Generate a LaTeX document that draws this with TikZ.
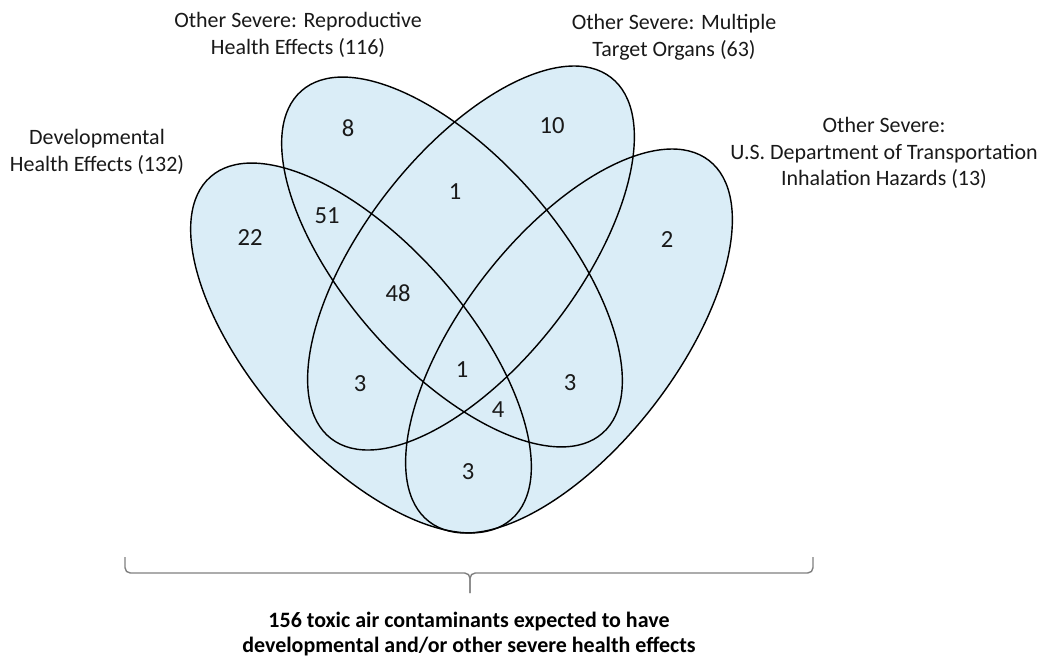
\documentclass[tikz,border=0pt]{standalone}
\usepackage{fontspec}
\setmainfont{Carlito}
\definecolor{vennfill}{RGB}{218,237,247}

\begin{document}
\begin{tikzpicture}[
    x=0.02cm, y=-0.02cm,
    font=\fontsize{12.5}{15.3}\selectfont,
    setfill/.style={fill=vennfill},
    setline/.style={draw=black, line width=0.8pt},
    setlabel/.style={align=center, inner sep=0pt, text=black!90},
    count/.style={font=\fontsize{14}{16}\selectfont, inner sep=0pt, text=black!90},
    bracket/.style={draw=black!50, line width=0.8pt, rounded corners=3pt},
    summary/.style={align=center, inner sep=0pt, font=\fontsize{12.5}{14.7}\selectfont\bfseries},
]
    \useasboundingbox (0,0) rectangle (1045,657);

    % ============= Set centres =============
    \coordinate (devC) at (361,348);
    \coordinate (repC) at (452,262);
    \coordinate (mulC) at (471,258);
    \coordinate (dotC) at (569,341);

    % ============= Fills first, outlines on top =============
    \fill[setfill, rotate around={-48.65:(devC)}] (devC) ellipse (4.56cm and 2.12cm);
    \fill[setfill, rotate around={-48.65:(repC)}] (repC) ellipse (4.56cm and 2.12cm);
    \fill[setfill, rotate around={52.2:(mulC)}] (mulC) ellipse (4.57cm and 2.13cm);
    \fill[setfill, rotate around={52.2:(dotC)}] (dotC) ellipse (4.57cm and 2.13cm);

    \draw[setline, rotate around={-48.65:(devC)}] (devC) ellipse (4.56cm and 2.12cm);
    \draw[setline, rotate around={-48.65:(repC)}] (repC) ellipse (4.56cm and 2.12cm);
    \draw[setline, rotate around={52.2:(mulC)}] (mulC) ellipse (4.57cm and 2.13cm);
    \draw[setline, rotate around={52.2:(dotC)}] (dotC) ellipse (4.57cm and 2.13cm);

    % ============= Set labels =============
    \node[setlabel] (devlab) at (97,152) {Developmental\\Health Effects (132)};
    \node[setlabel] (replab) at (298,35) {Other Severe: Reproductive\\Health Effects (116)};
    \node[setlabel] (mullab) at (674,37) {Other Severe: Multiple\\Target Organs (63)};
    \node[setlabel] (dotlab) at (884,153) {Other Severe:\\U.S. Department of Transportation\\Inhalation Hazards (13)};

    % ============= Region counts =============
    \node[count] (nRep) at (348,128) {8};
    \node[count] (nMul) at (552,126) {10};
    \node[count] (nDev) at (250,238) {22};
    \node[count] (nDot) at (667,240) {2};
    \node[count] (nRepMul) at (455,192) {1};
    \node[count] (nDevRep) at (327,216) {51};
    \node[count] (nDevRepMul) at (398,293) {48};
    \node[count] (nDevMul) at (360,384) {3};
    \node[count] (nAll) at (462,370) {1};
    \node[count] (nDevRepDot) at (498,410) {4};
    \node[count] (nRepDot) at (570,383) {3};
    \node[count] (nDevDot) at (468,472) {3};

    % ============= Bracket and total =============
    \coordinate (brL) at (125,557);
    \coordinate (brR) at (813,557);
    \coordinate (brTip) at (470,593);
    \draw[bracket] (brL) |- (470,573) -- (brTip);
    \draw[bracket] (brR) |- (470,573) -- (brTip);
    \node[summary] (total) at (469,634) {156 toxic air contaminants expected to have\\developmental and/or other severe health effects};
\end{tikzpicture}
\end{document}
